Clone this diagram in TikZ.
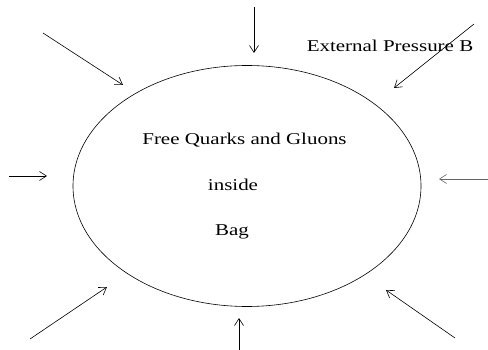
\documentclass[tikz,border=0pt]{standalone}
\usepackage{fontspec}
\setmainfont{Liberation Serif}
\usepackage{tikz}
\usetikzlibrary{shapes.geometric, arrows.meta, positioning}

\tikzset{
  push/.style={line width=0.6pt, -{Straight Barb[length=7pt, width=9pt]}},
  lbl/.style={font=\fontsize{16.5}{18}\selectfont, xscale=1.27, inner sep=0pt}
}

\begin{document}
\begin{tikzpicture}[x=1pt, y=-1pt]
    \useasboundingbox (0,0) rectangle (488,350);

    % Bag
    \node[draw, ellipse, line width=0.6pt, minimum width=348pt, minimum height=241pt,
          inner sep=0pt, outer sep=0pt] (bag) at (247,186) {};
    \node[lbl] (free) at (244.5,140) {Free Quarks and Gluons};
    \node[lbl] (inside) at (233,185) {inside};
    \node[lbl] (bagtxt) at (232,232) {Bag};

    % Pressure
    \node[lbl] (pressure) at (390,46) {External Pressure B};

    \coordinate (tl1) at (43,33);   \coordinate (tl2) at (123,85);
    \coordinate (t1) at (254,7);    \coordinate (t2) at (254,53);
    \coordinate (tr1) at (474,24);  \coordinate (tr2) at (394,88);
    \coordinate (l1) at (9,176);    \coordinate (l2) at (47,176);
    \coordinate (r1) at (488,179);  \coordinate (r2) at (439,179);
    \coordinate (bl1) at (30,339);  \coordinate (bl2) at (107,287);
    \coordinate (b1) at (239,350);  \coordinate (b2) at (239,318);
    \coordinate (br1) at (455,338); \coordinate (br2) at (386,290);

    \draw[push] (tl1) -- (tl2);
    \draw[push] (t1) -- (t2);
    \draw[push] (tr1) -- (tr2);
    \draw[push] (l1) -- (l2);
    \draw[push, black!60] (r1) -- (r2);
    \draw[push] (bl1) -- (bl2);
    \draw[push] (b1) -- (b2);
    \draw[push] (br1) -- (br2);
\end{tikzpicture}
\end{document}
